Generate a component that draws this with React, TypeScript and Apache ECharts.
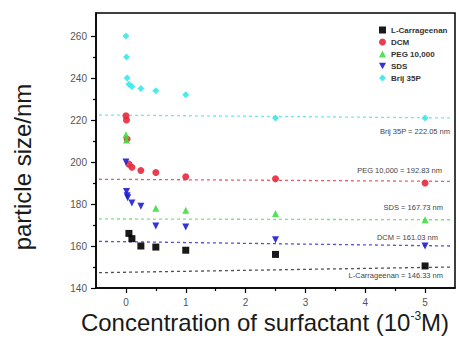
import React, { useEffect, useRef } from "react";
import * as echarts from "echarts";

// ---- data ----
const seriesNames = ["L-Carrageenan", "DCM", "PEG 10,000", "SDS", "Brij 35P"];

const carrX = [0.05, 0.1, 0.25, 0.5, 1, 2.5, 5];
const carrY = [166, 163.5, 160, 159.5, 158, 156, 150.5];

const dcmX = [0, 0.01, 0.02, 0.05, 0.1, 0.25, 0.5, 1, 2.5, 5];
const dcmY = [222, 220, 211, 199, 197.5, 196, 195, 193, 192, 190];

const pegX = [0, 0.01, 0.5, 1, 2.5, 5];
const pegY = [213, 210.5, 178, 177, 175.5, 172.5];

const sdsX = [0, 0.01, 0.02, 0.03, 0.1, 0.25, 0.5, 1, 2.5, 5];
const sdsY = [200, 186, 184, 183, 180.5, 179, 169.5, 169, 163, 160];

const brijX = [0, 0.01, 0.02, 0.05, 0.1, 0.25, 0.5, 1, 2.5, 5];
const brijY = [260, 250, 240, 237, 236, 235, 234, 232, 221, 221];

// dashed fitted lines (values at the left and right ends), by colour
const fitX = [-0.45, 5.45];
const blackFit = [147.3, 150];
const blueFit = [162.2, 160];
const greenFit = [172.9, 172.5];
const redFit = [191.8, 190.8];
const cyanFit = [222.4, 221];

const fitLabels = [
  "Brij 35P = 222.05 nm",
  "PEG 10,000 = 192.83 nm",
  "SDS = 167.73 nm",
  "DCM = 161.03 nm",
  "L-Carrageenan = 146.33 nm",
];

const yTicks = [140, 160, 180, 200, 220, 240, 260];
const yMinorTicks = [150, 170, 190, 210, 230, 250];
const xTicks = [0, 1, 2, 3, 4, 5];
const xMinorTicks = [0.5, 1.5, 2.5, 3.5, 4.5];

const colors = ["#000000", "#e8283c", "#3ee03e", "#1e1ed2", "#38e8e8"];
const symbols = [
  "rect",
  "circle",
  "triangle",
  "path://M0,0 L10,0 L5,9 Z",
  "diamond",
];

const zip = (xs: number[], ys: number[]) => xs.map((x, i) => [x, ys[i]]);

export default function App() {
  const ref = useRef<HTMLDivElement>(null);
  useEffect(() => {
    if (!ref.current) return;
    const chart = echarts.init(ref.current, undefined, { renderer: "svg" });
    const font = "Liberation Sans, Arial, sans-serif";
    const pts = [
      zip(carrX, carrY),
      zip(dcmX, dcmY),
      zip(pegX, pegY),
      zip(sdsX, sdsY),
      zip(brijX, brijY),
    ];
    const fits = [
      { d: blackFit, c: "#333333" },
      { d: blueFit, c: "#3434d8" },
      { d: greenFit, c: "#5ee05e" },
      { d: redFit, c: "#e84050" },
      { d: cyanFit, c: "#50e8e8" },
    ];
    const scatterSeries = seriesNames.map((n, i) => ({
      name: n,
      type: "scatter",
      data: pts[i],
      symbol: symbols[i],
      symbolSize: 7,
      itemStyle: { color: colors[i], opacity: 0.9 },
      z: 3,
    }));
    const lineSeries = fits.map((f, i) => ({
      name: "fit" + i,
      type: "line",
      data: zip(fitX, f.d),
      symbol: "none",
      silent: true,
      lineStyle: { color: f.c, width: 1.3, type: [3, 3], opacity: 0.85 },
      z: 2,
    }));
    const labelY = [131, 170, 207, 237, 275];
    const labelX = [450, 442, 443, 438, 443];
    const axisCommonX = {
      type: "value",
      min: -0.5,
      max: 5.5,
      position: "bottom",
      splitLine: { show: false },
    };
    const axisCommonY = {
      type: "value",
      min: 140,
      max: 271,
      position: "left",
      splitLine: { show: false },
    };
    chart.setOption({
      animation: false,
      grid: {
        left: 96,
        top: 13,
        right: 4,
        bottom: 52,
        show: true,
        borderColor: "#000",
        borderWidth: 1.5,
        backgroundColor: "transparent",
      },
      legend: {
        data: seriesNames,
        orient: "vertical",
        left: 374,
        top: 21,
        itemWidth: 7,
        itemHeight: 7,
        itemGap: 4,
        itemTextGap: 6,
        textStyle: { fontSize: 8, fontWeight: "bold", color: "#333", fontFamily: font },
      },
      xAxis: [
        {
          ...axisCommonX,
          axisLine: { show: true, onZero: false, lineStyle: { color: "#000", width: 1.5 } },
          axisTick: { show: true, length: 5, customValues: xTicks, lineStyle: { color: "#000", width: 1.2 } },
          axisLabel: { customValues: xTicks, fontSize: 10, color: "#555", margin: 9, fontFamily: font },
        },
        {
          ...axisCommonX,
          axisLine: { show: false, onZero: false },
          axisTick: { show: true, length: 3, customValues: xMinorTicks, lineStyle: { color: "#000", width: 1.2 } },
          axisLabel: { show: false },
        },
      ],
      yAxis: [
        {
          ...axisCommonY,
          axisLine: { show: true, onZero: false, lineStyle: { color: "#000", width: 1.5 } },
          axisTick: { show: true, length: 5, customValues: yTicks, lineStyle: { color: "#000", width: 1.2 } },
          axisLabel: { customValues: yTicks, fontSize: 10, color: "#555", margin: 9, fontFamily: font },
        },
        {
          ...axisCommonY,
          axisLine: { show: false, onZero: false },
          axisTick: { show: true, length: 3, customValues: yMinorTicks, lineStyle: { color: "#000", width: 1.2 } },
          axisLabel: { show: false },
        },
      ],
      series: [...lineSeries, ...scatterSeries],
      graphic: [
        ...fitLabels.map((t, i) => ({
          type: "text",
          x: labelX[i],
          y: labelY[i],
          style: {
            text: t,
            fontSize: 7.5,
            fill: "#444",
            align: "right",
            verticalAlign: "middle",
            fontFamily: font,
          },
        })),
        {
          type: "text",
          x: 22,
          y: 167,
          rotation: Math.PI / 2,
          style: {
            text: "particle size/nm",
            fontSize: 24,
            fill: "#1a1a1a",
            align: "center",
            verticalAlign: "middle",
            fontFamily: font,
          },
        },
        {
          type: "text",
          x: 265,
          y: 322,
          style: {
            text: "Concentration of surfactant (10{s|-3}M)",
            fontSize: 24,
            fill: "#1a1a1a",
            align: "center",
            verticalAlign: "middle",
            fontFamily: font,
            rich: {
              s: { fontSize: 12, verticalAlign: "top", lineHeight: 24, fontFamily: font, fill: "#1a1a1a" },
            },
          },
        },
      ],
    });
    return () => chart.dispose();
  }, []);
  return (
    <div
      ref={ref}
      style={{ position: "fixed", left: 0, top: 0, width: 459, height: 340, background: "#fff" }}
    />
  );
}
